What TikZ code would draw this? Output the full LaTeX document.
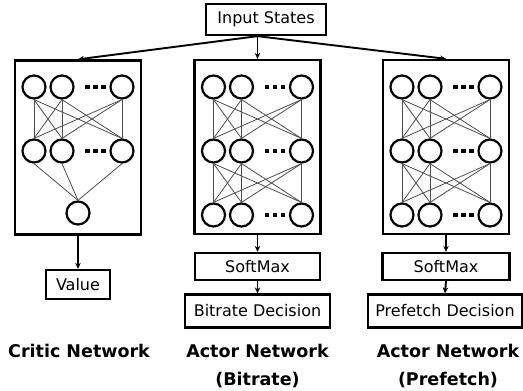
\documentclass[tikz,border=0pt]{standalone}
\usepackage{fontspec}
\setmainfont{DejaVu Sans}
\usetikzlibrary{arrows.meta}
\begin{document}
\begin{tikzpicture}[x=1pt,y=-1pt,
  box/.style={draw, line width=2.3pt, inner sep=0pt, font=\fontsize{16}{18}\selectfont},
  netbox/.style={draw, line width=2.3pt, minimum width=126pt, minimum height=174pt, inner sep=0pt},
  neuron/.style={circle, draw, line width=2.2pt, minimum size=23pt, inner sep=0pt},
  conn/.style={draw=black!70, line width=0.8pt},
  arr/.style={-{Stealth[length=6pt,width=5.5pt]}, line width=1.9pt},
  lab/.style={font=\bfseries\fontsize{17.5}{28}\selectfont, align=center},
  ndot/.style={fill=black, minimum size=4.5pt, inner sep=0pt}
]
\useasboundingbox (0,0) rectangle (523,391);
\node[box, minimum width=120pt, minimum height=31pt] (inp) at (266,19.5) {Input States};
\node[netbox] (netC) at (78,147.5) {};
\node[netbox] (netB) at (257.5,147) {};
\node[netbox] (netP) at (446,147) {};
% neurons
\foreach \n/\bx in {C/15,B/194.5,P/383}{
  \foreach \r/\y in {1/87,2/151}{
    \node[neuron] (\n\r1) at (\bx+19,\y) {};
    \node[neuron] (\n\r2) at (\bx+47,\y) {};
    \node[neuron] (\n\r3) at (\bx+107,\y) {};
    \foreach \k/\d in {1/72.5,2/80.5,3/88.5}
      \node[ndot] (\n\r d\k) at (\bx+\d,\y) {};
  }
}
\foreach \n/\bx in {B/194.5,P/383}{
  \node[neuron] (\n31) at (\bx+19,215) {};
  \node[neuron] (\n32) at (\bx+47,215) {};
  \node[neuron] (\n33) at (\bx+107,215) {};
  \foreach \k/\d in {1/72.5,2/80.5,3/88.5}
    \node[ndot] (\n3d\k) at (\bx+\d,215) {};
}
\node[neuron] (Cout) at (78,213) {};
% connections
\foreach \n in {C,B,P}
  \foreach \i in {1,2,3}
    \foreach \j in {1,2,3}
      \draw[conn] (\n1\i.south) -- (\n2\j.north);
\foreach \n in {B,P}
  \foreach \i in {1,2,3}
    \foreach \j in {1,2,3}
      \draw[conn] (\n2\i.south) -- (\n3\j.north);
\foreach \i in {1,2,3}
  \draw[conn] (C2\i.south) -- (Cout.north);
% output boxes
\node[box, minimum width=64pt, minimum height=29pt] (val) at (78,284.5) {Value};
\node[box, minimum width=125pt, minimum height=27pt] (smB) at (257.5,266.5) {SoftMax};
\node[box, minimum width=145pt, minimum height=33pt] (decB) at (257.5,311) {Bitrate Decision};
\node[box, minimum width=127pt, minimum height=27pt] (smP) at (446,266.5) {SoftMax};
\node[box, minimum width=154pt, minimum height=33pt] (decP) at (445,311) {Prefetch Decision};
% arrows
\coordinate (split) at (inp.south -| netB.north);
\draw[arr] (split) -- (netB.north);
\draw[arr] (split) -- (netC.north);
\draw[arr] (split) -- (netP.north);
\draw[arr] (netC.south) -- (val.north);
\draw[arr] (netB.south) -- (smB.north);
\draw[arr] (smB.south) -- (decB.north);
\draw[arr] (netP.south) -- (smP.north);
\draw[arr] (smP.south) -- (decP.north);
% labels
\node[lab, anchor=base] (labC) at (79,357) {Critic Network};
\node[lab, anchor=base] (labB) at (257.5,385) {Actor Network\\(Bitrate)};
\node[lab, anchor=base] (labP) at (448,385) {Actor Network\\(Prefetch)};
\end{tikzpicture}
\end{document}
